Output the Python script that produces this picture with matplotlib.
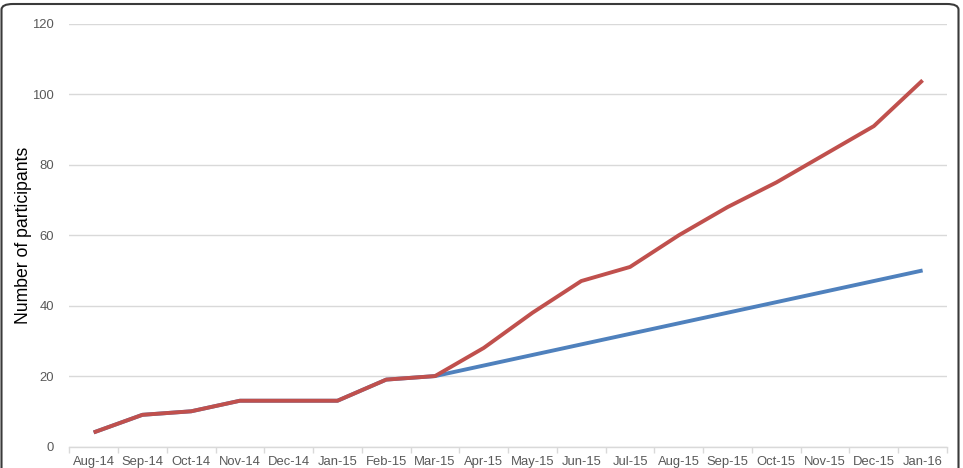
#!/usr/bin/env python
import numpy as np
import matplotlib
matplotlib.use('Agg')
import matplotlib.pyplot as plt
from matplotlib.patches import FancyBboxPatch

months = ['Aug-14', 'Sep-14', 'Oct-14', 'Nov-14', 'Dec-14', 'Jan-15', 'Feb-15',
          'Mar-15', 'Apr-15', 'May-15', 'Jun-15', 'Jul-15', 'Aug-15', 'Sep-15',
          'Oct-15', 'Nov-15', 'Dec-15', 'Jan-16']
# actual recruitment
actual = [4, 9, 10, 13, 13, 13, 19, 20, 28, 38, 47, 51, 60, 68, 75, 83, 91, 104]
# projected recruitment
projected = [4, 9, 10, 13, 13, 13, 19, 20, 23, 26, 29, 32, 35, 38, 41, 44, 47, 50]
yticks = [0, 20, 40, 60, 80, 100, 120]

plt.rcParams['font.family'] = ['Liberation Sans', 'DejaVu Sans']

W, H = 963, 468
fig = plt.figure(figsize=(W/100., H/100.), dpi=100)
ax = fig.add_axes([69.3/W, 1-446.5/H, (947-69.3)/W, (446.5-24)/H])

x = np.arange(len(months))
ax.plot(x, projected, color='#4F81BD', lw=2.8, solid_capstyle='butt', zorder=3)
ax.plot(x, actual, color='#C0504D', lw=2.8, solid_capstyle='butt', zorder=4)

ax.set_xlim(-0.5, len(months)-0.5)
ax.set_ylim(0, 120)
ax.set_yticks(yticks)
ax.set_xticks(x)
ax.set_xticklabels(months)
ax.set_xticks(np.arange(-0.5, len(months)), minor=True)
ax.tick_params(axis='x', which='major', length=0, pad=6.5, labelsize=9.4, labelcolor='#595959')
ax.tick_params(axis='x', which='minor', length=4, color='#D9D9D9', width=1)
ax.tick_params(axis='y', length=0, pad=11, labelsize=9.4, labelcolor='#595959')

ax.grid(axis='y', color='#D9D9D9', lw=1)
ax.set_axisbelow(True)
for s in ['left', 'right', 'top']:
    ax.spines[s].set_visible(False)
ax.spines['bottom'].set_color('#D9D9D9')
ax.spines['bottom'].set_linewidth(1)

fig.text(23/W, 1-(24+446.5)/2/H, 'Number of participants', rotation=90,
         ha='center', va='center', fontsize=12.7, color='black')

# rounded frame around the whole chart
frame = FancyBboxPatch((1.5/W, -20/H), (958.5-1.5)/W, (464+20)/H,
                       boxstyle='round,pad=0,rounding_size=0.012',
                       transform=fig.transFigure, fill=False,
                       edgecolor='#3a3a3a', lw=1.5, clip_on=False)
fig.patches.append(frame)

fig.savefig('out.png', dpi=100)
